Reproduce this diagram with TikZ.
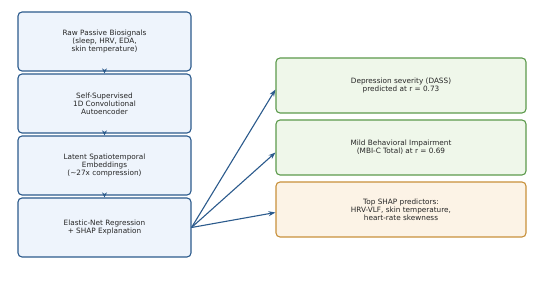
\documentclass[tikz,border=0pt]{standalone}
\usepackage{fontspec}
\setmainfont{DejaVu Sans}
\usetikzlibrary{arrows.meta}
\definecolor{pipeblue}{HTML}{2B5A8C}
\definecolor{pipefill}{HTML}{EEF4FC}
\definecolor{resgreen}{HTML}{5C9A4C}
\definecolor{resfill}{HTML}{EFF7EA}
\definecolor{shaporange}{HTML}{C8903A}
\definecolor{shapfill}{HTML}{FCF3E6}
\begin{document}
\begin{tikzpicture}[x=1pt,y=1pt,
  font=\fontsize{7.3}{8}\selectfont,
  stagebox/.style={draw=pipeblue, fill=pipefill, line width=1.1pt, rounded corners=4pt, align=center, minimum width=173pt, minimum height=59pt, inner sep=0pt, text=black!85},
  resultbox/.style={draw=resgreen, fill=resfill, line width=1.1pt, rounded corners=4pt, align=center, minimum width=250pt, minimum height=55pt, inner sep=0pt, text=black!85},
  shapbox/.style={resultbox, draw=shaporange, fill=shapfill},
  flow/.style={draw=pipeblue, line width=1.1pt, -{Stealth[length=7pt,width=5pt]}}]
\useasboundingbox (0,0) rectangle (560,300);

\node[stagebox] (raw) at (104.5,258.5)
{Raw Passive Biosignals\\(sleep, HRV, EDA,\\skin temperature)};

\node[stagebox] (ae) at (104.5,196.5)
{Self-Supervised\\1D Convolutional\\Autoencoder};

\node[stagebox] (emb) at (104.5,134.5)
{Latent Spatiotemporal\\Embeddings\\(\textasciitilde27x compression)};

\node[stagebox] (reg) at (104.5,72.5)
{Elastic-Net Regression\\+ SHAP Explanation};

\node[resultbox] (dass) at (401,214.5)
{Depression severity (DASS)\\predicted at r = 0.73};

\node[resultbox] (mbi) at (401,152.5)
{Mild Behavioral Impairment\\(MBI-C Total) at r = 0.69};

\node[shapbox] (shap) at (401,90.5)
{Top SHAP predictors:\\HRV-VLF, skin temperature,\\heart-rate skewness};

\draw[flow, -{Stealth[length=5pt,width=5pt]}] (raw) -- (ae);
\draw[flow, -{Stealth[length=5pt,width=5pt]}] (ae) -- (emb);
\draw[flow, -{Stealth[length=5pt,width=5pt]}] (emb) -- (reg);

\draw[flow] (reg.east) -- ([yshift=-4pt]dass.west);
\draw[flow] (reg.east) -- ([yshift=-5pt]mbi.west);
\draw[flow] (reg.east) -- ([yshift=-3pt]shap.west);
\end{tikzpicture}
\end{document}
